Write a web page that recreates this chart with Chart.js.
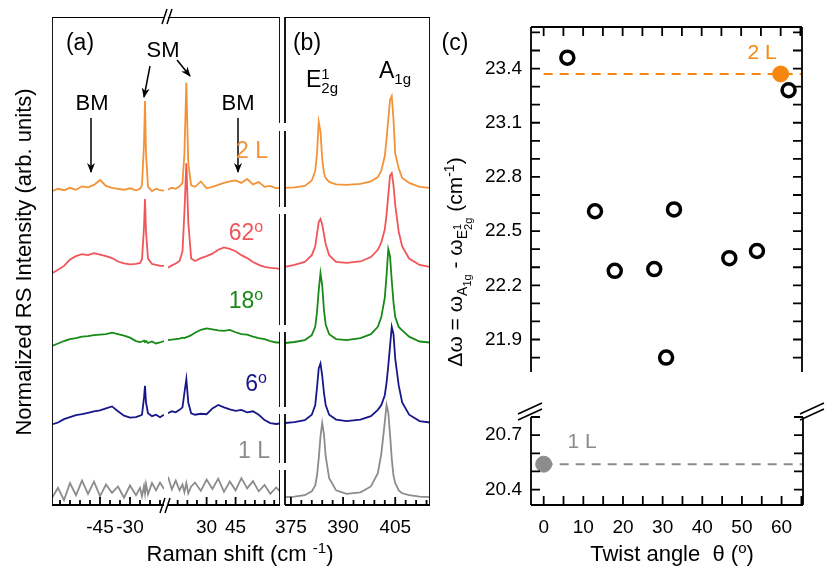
<!DOCTYPE html>
<html>
<head>
<meta charset="utf-8">
<script src="https://cdn.jsdelivr.net/npm/chart.js@4"></script>
<style>
  body { margin: 0; background: #fff; font-family: "Liberation Sans", Arial, sans-serif; }
  #wrap { position: relative; width: 830px; height: 573px; overflow: hidden; }
  canvas { position: absolute; }
  .t { position: absolute; transform: translate(-50%, -50%); white-space: nowrap; color: #000; }
  .rot { transform: translate(-50%, -50%) rotate(-90deg); }
  svg { position: absolute; left: 0; top: 0; }
</style>
</head>
<body>
<div id="wrap">
  <canvas id="aLeft" width="112" height="524" style="left:52px;top:17px"></canvas>
  <canvas id="aRight" width="112" height="524" style="left:168px;top:17px"></canvas>
  <canvas id="bPanel" width="165" height="524" style="left:265px;top:17px"></canvas>
  <canvas id="cTop" width="331" height="391" style="left:481px;top:17px"></canvas>
  <canvas id="cBottom" width="331" height="133" style="left:481px;top:408px"></canvas>

  <svg width="830" height="573">
    <defs>
      <marker id="ah" markerWidth="10" markerHeight="10" refX="9" refY="5" orient="auto" markerUnits="userSpaceOnUse">
        <path d="M0,1 L10,5 L0,9 L3,5 z" fill="#000"/>
      </marker>
    </defs>
    <!-- breaks of panel (a) -->
    <line x1="162" y1="24" x2="167" y2="9" stroke="#000" stroke-width="1.5"/>
    <line x1="167" y1="24" x2="172" y2="9" stroke="#000" stroke-width="1.5"/>
    <line x1="160" y1="513" x2="165" y2="498" stroke="#000" stroke-width="1.5"/>
    <line x1="165" y1="513" x2="170" y2="498" stroke="#000" stroke-width="1.5"/>
    <!-- gaps in the (a)/(b) separator -->
    <rect x="277" y="123" width="12" height="8" fill="#fff"/>
    <rect x="277" y="207" width="12" height="7" fill="#fff"/>
    <rect x="277" y="325" width="12" height="7" fill="#fff"/>
    <rect x="277" y="407" width="12" height="7" fill="#fff"/>
    <rect x="277" y="463" width="12" height="7" fill="#fff"/>
    <!-- breaks of panel (c) -->
    <rect x="526" y="403" width="10" height="10" fill="#fff"/>
    <rect x="807" y="403" width="10" height="10" fill="#fff"/>
    <line x1="518" y1="414" x2="542" y2="403" stroke="#000" stroke-width="1.6"/>
    <line x1="518" y1="420" x2="542" y2="409" stroke="#000" stroke-width="1.6"/>
    <line x1="800" y1="414" x2="824" y2="403" stroke="#000" stroke-width="1.6"/>
    <line x1="800" y1="420" x2="824" y2="409" stroke="#000" stroke-width="1.6"/>
    <!-- arrows -->
    <line x1="91" y1="118" x2="91" y2="172" stroke="#000" stroke-width="1.5" marker-end="url(#ah)"/>
    <line x1="238" y1="118" x2="238" y2="172" stroke="#000" stroke-width="1.5" marker-end="url(#ah)"/>
    <line x1="150" y1="66" x2="144" y2="97" stroke="#000" stroke-width="1.5" marker-end="url(#ah)"/>
    <line x1="177" y1="60" x2="190" y2="76" stroke="#000" stroke-width="1.5" marker-end="url(#ah)"/>
  </svg>

  <div class="t" style="left:80px;top:42px;font-size:23px">(a)</div>
  <div class="t" style="left:307px;top:42px;font-size:23px">(b)</div>
  <div class="t" style="left:455px;top:42px;font-size:23px">(c)</div>
  <div class="t" style="left:163px;top:50px;font-size:22px">SM</div>
  <div class="t" style="left:92px;top:103px;font-size:22px">BM</div>
  <div class="t" style="left:238px;top:103px;font-size:22px">BM</div>
  <div class="t" style="left:322px;top:80px;font-size:23px">E<span style="display:inline-block;vertical-align:middle;font-size:15px;line-height:14px;text-align:left">1<br>2g</span></div>
  <div class="t" style="left:395px;top:72px;font-size:23px">A<sub style="font-size:15px">1g</sub></div>

  <div class="t" style="left:252px;top:150px;font-size:23px;color:#F39237">2 L</div>
  <div class="t" style="left:246px;top:232px;font-size:23px;color:#F0555A">62<sup style="font-size:16px">o</sup></div>
  <div class="t" style="left:246px;top:300px;font-size:23px;color:#178A17">18<sup style="font-size:16px">o</sup></div>
  <div class="t" style="left:256px;top:383px;font-size:23px;color:#17178A">6<sup style="font-size:16px">o</sup></div>
  <div class="t" style="left:254px;top:450px;font-size:23px;color:#8C8C8C">1 L</div>
  <div class="t" style="left:762px;top:52px;font-size:21px;color:#F7860F">2 L</div>
  <div class="t" style="left:582px;top:441px;font-size:21px;color:#8C8C8C">1 L</div>

  <div class="t rot" style="left:24px;top:262px;font-size:22px">Normalized RS Intensity (arb. units)</div>
  <div class="t" style="left:240px;top:553px;font-size:22px">Raman shift (cm <sup style="font-size:15px">-1</sup>)</div>
  <div class="t rot" style="left:458px;top:262px;font-size:21px">&Delta;&omega; = &omega;<sub style="font-size:14px">A<sub style="font-size:11px">1g</sub></sub> - &omega;<sub style="font-size:14px">E<span style="display:inline-block;vertical-align:middle;font-size:11px;line-height:11px">1<br>2g</span></sub> (cm<sup style="font-size:14px">-1</sup>)</div>
  <div class="t" style="left:672px;top:553px;font-size:22px">Twist angle &nbsp;&theta; (<sup style="font-size:15px">o</sup>)</div>
</div>

<script>
// Panel (a): low-frequency Raman shift (cm-1), two segments around the break
const lowLeftShift = [-69,-66,-63,-60,-57,-54,-51,-48,-45,-42,-39,-36,-33,-30,-27,-25,-24,-23,-22.5,-22,-21,-19,-17,-15,-13];
const lowRightShift = [10,12,14,16,17.5,18.5,19.5,20.5,22,24,27,30,33,36,39,42,45,48,51,54,57,60,63,66,68];

// intensities (stacked, arb. units)
const low2L_left  = [64.3,64.8,64.5,65.0,64.6,65.3,65.1,65.6,66.6,65.4,65.0,64.8,64.6,64.9,64.5,64.8,65.5,74,82.8,72,65.2,64.3,64.8,64.5,64.4];
const low2L_right = [64.6,65.0,64.8,65.3,66,72,86.5,70,65.5,65.2,66.3,64.9,65.2,65.6,66.0,66.3,66.5,66.0,66.8,65.7,66.2,65.2,65.4,64.9,65.0];
const low62_left  = [47.5,48.2,49.0,50.3,51.0,51.4,51.2,51.6,51.3,51.0,50.6,49.9,49.5,49.3,49.4,49.6,50.3,57,62.7,56,50.5,49.4,49.2,49.0,49.0];
const low62_right = [48.6,49.1,49.5,50.0,52,60,70,58,50.5,50.0,50.6,51.0,51.5,52.3,52.8,52.5,52.0,51.2,50.6,49.8,49.2,48.8,48.6,48.5,48.4];
const low18_left  = [32.6,33.1,33.6,34.0,34.2,34.5,34.6,34.8,34.9,35.0,35.3,35.0,34.7,34.3,33.6,33.4,33.5,33.7,33.4,33.6,33.2,33.5,33.1,33.3,33.6];
const low18_right = [33.8,33.9,34.0,34.1,34.3,34.2,34.4,34.5,34.8,35.3,35.9,36.2,36.0,35.8,35.7,35.9,35.4,35.0,34.9,34.5,34.2,34.0,33.6,33.3,33.3];
const low6_left   = [16.5,16.9,17.6,18.0,18.4,18.6,18.9,19.2,19.4,19.8,20.2,19.2,18.3,17.9,18.0,18.3,18.5,22,24.4,21,18.8,18.2,18.5,18.0,18.5];
const low6_right  = [18.8,19.2,19.0,19.5,20,23,25.8,21,18.8,18.5,18.7,18.6,19.8,20.5,20.0,19.6,19.3,19.5,19.0,19.2,18.5,17.4,16.8,16.6,16.7];
const low1L_left  = [1.5,3.5,1.0,4.5,2.0,5.0,2.3,4.8,1.8,4.2,2.5,3.8,1.5,4.0,2.0,3.5,1.8,3.9,2.4,4.3,2.2,4.5,3.0,4.6,3.3];
const low1L_right = [5.8,3.2,5.0,3.0,4.2,2.6,4.5,2.4,3.8,4.6,2.9,5.2,3.3,5.4,2.7,4.8,3.0,5.5,3.4,4.9,2.8,4.1,2.3,3.6,2.8];

// Panel (b): high-frequency Raman shift (cm-1)
const highShift = [373.3,376,379,381,382,382.5,383,383.5,384,384.5,385,386,388,391,395,398,400,401,402,402.5,403,403.5,404,404.5,405,406,407,409,412,415];
const high2L = [65.0,65.1,65.4,66.5,68.5,72,78.5,76.5,71,68,67,66.2,65.7,65.6,65.8,66.3,67.2,68.5,71.5,75,79,83,83.8,79,72,69,67,66,65.2,65.0];
const high62 = [48.8,49.2,49.8,51.2,53,55.5,58,58.6,57.5,55.5,53.5,51.2,49.8,49.6,49.9,50.8,52.3,53.8,56.5,59.5,63.5,67.5,68,65.5,61.5,56,53,50.5,49.2,48.8];
const high18 = [33.2,33.4,33.8,34.8,36.5,39.5,44,47.5,45,40,37,35,34,33.8,34.2,35,36.5,38.5,42.5,47,52.4,51,46,41.5,38.5,36.5,35.8,34.5,33.5,33.3];
const high6  = [16.8,17.0,17.4,18.5,20.5,24,28,29,26.5,23,20.5,18.5,17.5,17.2,17.5,18.2,19.5,20.5,22.5,25,28.5,32.5,36.5,35,30,24.5,21,18.5,17.2,16.9];
const high1L = [1.6,1.7,2.0,2.8,4.0,6.0,9.5,14,16.8,14.5,10,5.5,3,2.3,2.6,3.8,6.5,10.5,17,20.5,19,14.5,9.5,6,4.5,3,2.4,2,1.7,1.6];

// Panel (c): twist angle vs. frequency difference
const twistAngles = [6,13,18,28,31,33,47,54,62];
const deltaOmega  = [23.46,22.61,22.28,22.29,21.80,22.62,22.35,22.39,23.28];
const bilayerRef  = 23.37;   // 2 L, natural stacking (60 deg)
const monolayerRef = 20.54;  // 1 L
const upperTicks = [23.4,23.1,22.8,22.5,22.2,21.9];
const lowerTicks = [20.7,20.4];

const colors = { l2: '#F39237', t62: '#F0555A', t18: '#178A17', t6: '#17178A', l1: '#8C8C8C' };
const font = { family: '"Liberation Sans", Arial, sans-serif', size: 19 };

// frame and inward tick marks, placed through the chart scales
const frameTicks = {
    id: 'frameTicks',
    afterDatasetsDraw(chart, args, o) {
        if (!o || !o.sides) return;
        const { ctx, chartArea: a, scales } = chart;
        ctx.save();
        ctx.strokeStyle = '#000';
        ctx.lineWidth = 1.8;
        ctx.beginPath();
        if (o.sides.includes('l')) { ctx.moveTo(a.left, a.top); ctx.lineTo(a.left, a.bottom); }
        if (o.sides.includes('r')) { ctx.moveTo(a.right, a.top); ctx.lineTo(a.right, a.bottom); }
        if (o.sides.includes('t')) { ctx.moveTo(a.left, a.top); ctx.lineTo(a.right, a.top); }
        if (o.sides.includes('b')) { ctx.moveTo(a.left, a.bottom); ctx.lineTo(a.right, a.bottom); }
        const isMajor = (list, v) => list.some(m => Math.abs(m - v) < 1e-6);
        if (o.x) {
            const s = scales.x;
            for (let i = 0; ; i++) {
                const v = o.x.from + i * o.x.step;
                if (v > s.max + 1e-9) break;
                const p = s.getPixelForValue(v);
                const len = isMajor(o.x.major, v) ? o.x.long : o.x.short;
                if (o.x.edges.includes('b')) { ctx.moveTo(p, a.bottom); ctx.lineTo(p, a.bottom - len); }
                if (o.x.edges.includes('t')) { ctx.moveTo(p, a.top); ctx.lineTo(p, a.top + len); }
            }
        }
        if (o.y) {
            const s = scales.y;
            for (let i = 0; ; i++) {
                const v = o.y.from + i * o.y.step;
                if (v > s.max + 1e-9) break;
                const p = s.getPixelForValue(v);
                const len = isMajor(o.y.major, v) ? o.y.long : o.y.short;
                ctx.moveTo(a.left, p); ctx.lineTo(a.left + len, p);
                ctx.moveTo(a.right, p); ctx.lineTo(a.right - len, p);
            }
        }
        ctx.stroke();
        ctx.restore();
    }
};
Chart.register(frameTicks);

function series(xs, ys, color) {
    return {
        data: xs.map((x, i) => ({ x: x, y: ys[i] })),
        borderColor: color, borderWidth: 1.8,
        pointRadius: 0, showLine: true, tension: 0, clip: false
    };
}

// keep the plot area flush with the canvas edges (no label overflow padding)
function fitX(s, h) {
    s.height = h;
    s.paddingLeft = 0;
    s.paddingRight = 0;
}

function spectrumChart(id, min, max, labels, datasets, frame, padLeft) {
    return new Chart(document.getElementById(id), {
        type: 'scatter',
        data: { datasets: datasets },
        options: {
            responsive: false, animation: false,
            layout: { padding: { left: padLeft || 0, right: 0, top: 0, bottom: 0 } },
            plugins: { legend: { display: false }, tooltip: { enabled: false }, frameTicks: frame },
            scales: {
                x: {
                    type: 'linear', min: min, max: max,
                    grid: { display: false, drawTicks: false }, border: { display: false },
                    ticks: { color: '#000', font: font, padding: 11, autoSkip: false, maxRotation: 0 },
                    afterBuildTicks: s => { s.ticks = labels.map(v => ({ value: v })); },
                    afterFit: s => fitX(s, 36)
                },
                y: { display: false, min: 0, max: 100 }
            }
        }
    });
}

spectrumChart('aLeft', -69, -13, [-45, -30], [
    series(lowLeftShift, low2L_left, colors.l2),
    series(lowLeftShift, low62_left, colors.t62),
    series(lowLeftShift, low18_left, colors.t18),
    series(lowLeftShift, low6_left, colors.t6),
    series(lowLeftShift, low1L_left, colors.l1)
], { sides: 'ltb', x: { from: -65, step: 5, major: [-45, -30], long: 8, short: 5, edges: 'b' } });

spectrumChart('aRight', 10, 68, [30, 45], [
    series(lowRightShift, low2L_right, colors.l2),
    series(lowRightShift, low62_right, colors.t62),
    series(lowRightShift, low18_right, colors.t18),
    series(lowRightShift, low6_right, colors.t6),
    series(lowRightShift, low1L_right, colors.l1)
], { sides: 'rtb', x: { from: 15, step: 5, major: [30, 45], long: 8, short: 5, edges: 'b' } });

spectrumChart('bPanel', 373.3, 415, [375, 390, 405], [
    series(highShift, high2L, colors.l2),
    series(highShift, high62, colors.t62),
    series(highShift, high18, colors.t18),
    series(highShift, high6, colors.t6),
    series(highShift, high1L, colors.l1)
], { sides: 'lrtb', x: { from: 375, step: 3, major: [375, 390, 405], long: 8, short: 5, edges: 'b' } }, 20);

// panel (c)
function twistChart(id, yMin, yMax, yLabels, showX, datasets, frame) {
    return new Chart(document.getElementById(id), {
        type: 'scatter',
        data: { datasets: datasets },
        options: {
            responsive: false, animation: false,
            layout: { padding: 0 },
            plugins: { legend: { display: false }, tooltip: { enabled: false }, frameTicks: frame },
            scales: {
                x: {
                    type: 'linear', min: -3.2, max: 65.4, display: showX,
                    grid: { display: false, drawTicks: false }, border: { display: false },
                    ticks: { color: '#000', font: font, padding: 11, maxRotation: 0 },
                    afterBuildTicks: s => { s.ticks = [0, 10, 20, 30, 40, 50, 60].map(v => ({ value: v })); },
                    afterFit: s => fitX(s, 36)
                },
                y: {
                    type: 'linear', min: yMin, max: yMax,
                    grid: { display: false, drawTicks: false }, border: { display: false },
                    ticks: { color: '#000', font: font, padding: 9, callback: v => v.toFixed(1) },
                    afterBuildTicks: s => { s.ticks = yLabels.map(v => ({ value: v })); },
                    afterFit: s => { s.width = 50; s.paddingTop = 0; s.paddingBottom = 0; }
                }
            }
        }
    });
}

const dashLine = (y, color) => ({
    data: [{ x: 0, y: y }, { x: 65.4, y: y }],
    borderColor: color, borderWidth: 2, borderDash: [9, 7],
    pointRadius: 0, showLine: true, clip: false
});

twistChart('cTop', 21.72, 23.63, upperTicks, false, [
    {
        data: twistAngles.map((x, i) => ({ x: x, y: deltaOmega[i] })),
        pointRadius: 6.5, pointBorderWidth: 3.5, pointBorderColor: '#000', pointBackgroundColor: '#fff', clip: false
    },
    { data: [{ x: 60, y: bilayerRef }], pointRadius: 8, pointBackgroundColor: '#F7860F', pointBorderColor: '#F7860F', clip: false },
    dashLine(bilayerRef, '#F7860F')
], { sides: 'lrt', x: { from: 0, step: 5, major: [0, 10, 20, 30, 40, 50, 60], long: 9, short: 9, edges: 't' },
     y: { from: 21.8, step: 0.1, major: upperTicks, long: 9, short: 9 } });

twistChart('cBottom', 20.315, 20.8, lowerTicks, true, [
    dashLine(monolayerRef, '#8C8C8C'),
    { data: [{ x: 0, y: monolayerRef }], pointRadius: 8, pointBackgroundColor: '#8C8C8C', pointBorderColor: '#8C8C8C', clip: false }
], { sides: 'lrb', x: { from: 0, step: 5, major: [0, 10, 20, 30, 40, 50, 60], long: 9, short: 9, edges: 'b' },
     y: { from: 20.4, step: 0.1, major: lowerTicks, long: 9, short: 9 } });
</script>
</body>
</html>
